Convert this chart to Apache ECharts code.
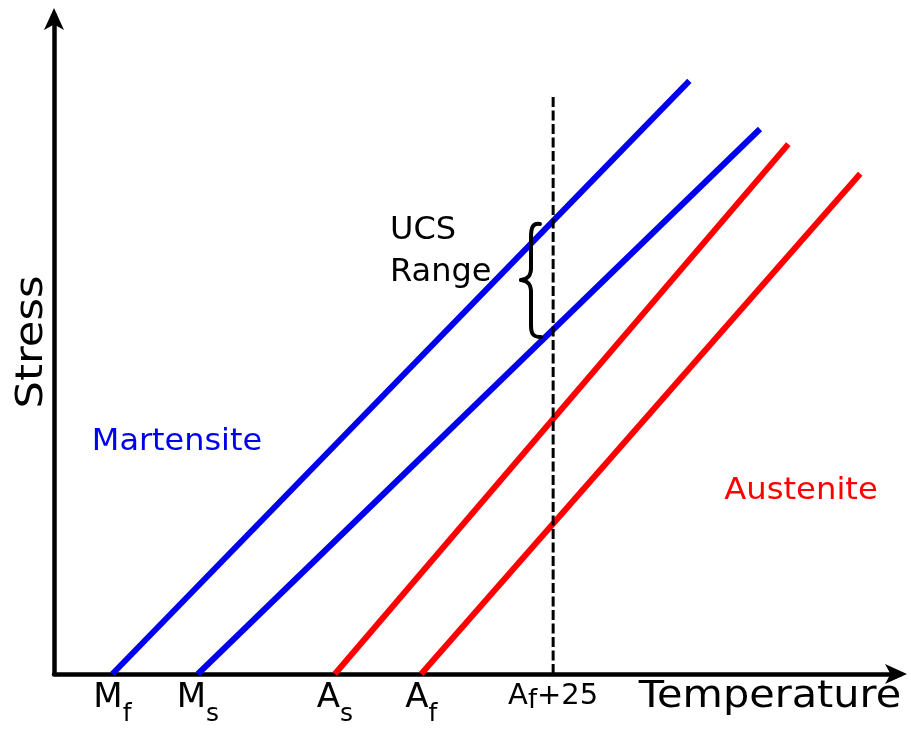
<!DOCTYPE html>
<html>
<head>
<meta charset="utf-8">
<script src="https://cdn.jsdelivr.net/npm/echarts@6/dist/echarts.min.js"></script>
<style>
  html, body { margin: 0; padding: 0; background: #fff; }
  #chart { width: 911px; height: 729px; }
</style>
</head>
<body>
<div id="chart"></div>
<script>
// Transformation lines: [temperature, stress] endpoints
const mfLine = [[6.9, 0], [75.1, 90.0]];
const msLine = [[17.0, 0], [83.45, 82.7]];
const asLine = [[33.2, 0], [86.8, 80.4]];
const afLine = [[43.4, 0], [95.3, 75.9]];
const af25Line = [[59.0, 0], [59.0, 87.9]];

// x tick positions and labels
const tickValues = [6.9, 17.0, 33.2, 43.4, 59.0];
const tickLabels = ['{m|M}{s|f}', '{m|M}{s|s}', '{m|A}{s|s}', '{m|A}{s|f}', '{a|A}{b|f}{a|+25}'];

const chart = echarts.init(document.getElementById('chart'));
const FONT = 'DejaVu Sans';

const braceStyle = { stroke: '#000', lineWidth: 4, fill: 'none', lineCap: 'round' };

chart.setOption({
  animation: false,
  backgroundColor: '#ffffff',
  grid: { left: 54, right: 11, top: 15, bottom: 55, containLabel: false },
  xAxis: {
    type: 'value', min: 0, max: 100,
    splitLine: { show: false },
    axisTick: { show: false },
    axisLine: {
      show: true, onZero: false,
      symbol: ['none', 'arrow'], symbolSize: [15, 22], symbolOffset: [0, 7],
      lineStyle: { color: '#000', width: 4.5 }
    },
    axisLabel: {
      show: true,
      customValues: tickValues,
      margin: 7,
      color: '#000',
      fontFamily: FONT,
      formatter: function (v) {
        let idx = 0, best = Infinity;
        tickValues.forEach(function (t, i) { const d = Math.abs(t - v); if (d < best) { best = d; idx = i; } });
        return tickLabels[idx];
      },
      rich: {
        m: { fontFamily: FONT, fontSize: 34, lineHeight: 35, color: '#000', verticalAlign: 'top' },
        s: { fontFamily: FONT, fontSize: 25, lineHeight: 25, color: '#000', verticalAlign: 'top', padding: [21, 0, 0, 0] },
        a: { fontFamily: FONT, fontSize: 29, lineHeight: 30, color: '#000', verticalAlign: 'top', padding: [1, 0, 0, 0] },
        b: { fontFamily: FONT, fontSize: 26, lineHeight: 26, color: '#000', verticalAlign: 'top', padding: [7, 0, 0, 0] }
      }
    }
  },
  yAxis: {
    type: 'value', min: 0, max: 100,
    splitLine: { show: false },
    axisTick: { show: false },
    axisLabel: { show: false },
    axisLine: {
      show: true, onZero: false,
      symbol: ['none', 'arrow'], symbolSize: [15, 22], symbolOffset: [0, 7],
      lineStyle: { color: '#000', width: 4.5 }
    }
  },
  series: [
    { type: 'line', data: mfLine, symbol: 'none', lineStyle: { color: '#0000ee', width: 6, cap: 'butt' }, z: 3 },
    { type: 'line', data: msLine, symbol: 'none', lineStyle: { color: '#0000ee', width: 6, cap: 'butt' }, z: 3 },
    { type: 'line', data: asLine, symbol: 'none', lineStyle: { color: '#ff0000', width: 6, cap: 'butt' }, z: 3 },
    { type: 'line', data: afLine, symbol: 'none', lineStyle: { color: '#ff0000', width: 6, cap: 'butt' }, z: 3 },
    { type: 'line', data: af25Line, symbol: 'none', lineStyle: { color: '#000', width: 3, type: [10, 3.5] }, z: 4 }
  ],
  graphic: [
    { type: 'text', x: 32, y: 342, rotation: Math.PI / 2, scaleX: 1.14,
      style: { text: 'Stress', fontFamily: FONT, fontSize: 38, fill: '#000', align: 'center', verticalAlign: 'middle' } },
    { type: 'text', x: 770, y: 697, scaleX: 1.09,
      style: { text: 'Temperature', fontFamily: FONT, fontSize: 38, fill: '#000', align: 'center', verticalAlign: 'middle' } },
    { type: 'text', x: 177, y: 442, scaleX: 1.03,
      style: { text: 'Martensite', fontFamily: FONT, fontSize: 31, fill: '#0000ee', align: 'center', verticalAlign: 'middle' } },
    { type: 'text', x: 801, y: 491, scaleX: 1.04,
      style: { text: 'Austenite', fontFamily: FONT, fontSize: 31, fill: '#ff0000', align: 'center', verticalAlign: 'middle' } },
    { type: 'text', x: 390, y: 231,
      style: { text: 'UCS', fontFamily: FONT, fontSize: 32, fill: '#000', align: 'left', verticalAlign: 'middle' } },
    { type: 'text', x: 390, y: 273,
      style: { text: 'Range', fontFamily: FONT, fontSize: 32, fill: '#000', align: 'left', verticalAlign: 'middle' } },
    // curly brace marking the UCS range
    { type: 'bezierCurve', z: 10, shape: { x1: 540, y1: 224, cpx1: 533, cpy1: 223, cpx2: 531, cpy2: 227, x2: 531, y2: 237 }, style: braceStyle },
    { type: 'line', z: 10, shape: { x1: 531, y1: 237, x2: 531, y2: 268 }, style: braceStyle },
    { type: 'bezierCurve', z: 10, shape: { x1: 531, y1: 268, cpx1: 531, cpy1: 276, cpx2: 528, cpy2: 279, x2: 521, y2: 280 }, style: braceStyle },
    { type: 'bezierCurve', z: 10, shape: { x1: 521, y1: 280, cpx1: 528, cpy1: 281, cpx2: 531, cpy2: 284, x2: 531, y2: 292 }, style: braceStyle },
    { type: 'line', z: 10, shape: { x1: 531, y1: 292, x2: 531, y2: 325 }, style: braceStyle },
    { type: 'bezierCurve', z: 10, shape: { x1: 531, y1: 325, cpx1: 531, cpy1: 334, cpx2: 533, cpy2: 337, x2: 541, y2: 337 }, style: braceStyle }
  ]
});
</script>
</body>
</html>
